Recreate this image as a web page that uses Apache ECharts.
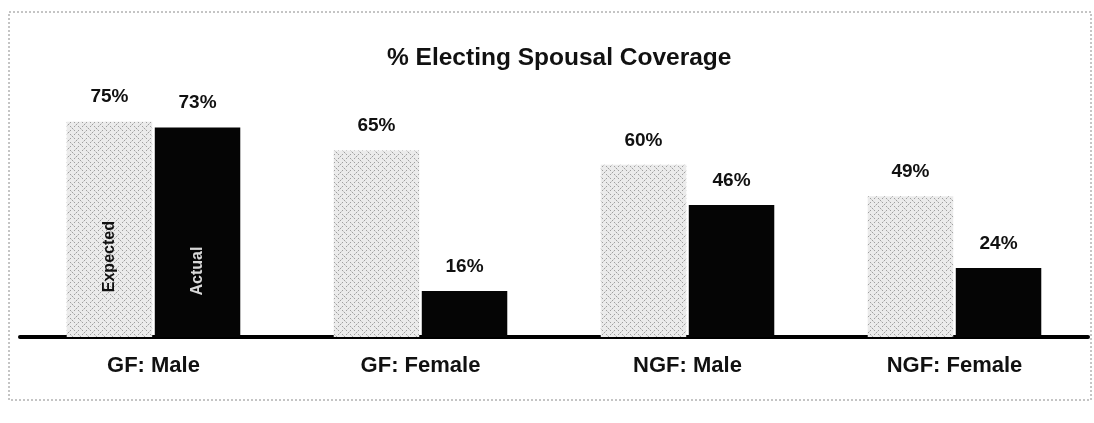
<!DOCTYPE html>
<html>
<head>
<meta charset="utf-8">
<script src="https://cdn.jsdelivr.net/npm/echarts@6/dist/echarts.min.js"></script>
<style>
html,body{margin:0;padding:0;background:#fff;}
#chart{width:1094px;height:423px;}
</style>
</head>
<body>
<div id="chart"></div>
<script>
// 数据
var categories = ['GF: Male', 'GF: Female', 'NGF: Male', 'NGF: Female'];
var expected = [75, 65, 60, 49];
var actual = [73, 16, 46, 24];

// 灰色网点底纹（扫描件的交叉斜线）
function hatch() {
	var c = document.createElement('canvas');
	c.width = 8; c.height = 8;
	var g = c.getContext('2d');
	g.fillStyle = '#ebebeb';
	g.fillRect(0, 0, 8, 8);
	g.fillStyle = '#a0a0a0';
	g.fillRect(0, 0, 1, 1);
	g.fillRect(2, 2, 1, 1);
	g.fillRect(6, 2, 1, 1);
	g.fillRect(4, 4, 1, 1);
	g.fillRect(2, 6, 1, 1);
	g.fillRect(6, 6, 1, 1);
	g.fillStyle = '#cccccc';
	g.fillRect(1, 1, 1, 1);
	g.fillRect(5, 3, 1, 1);
	g.fillRect(3, 5, 1, 1);
	g.fillRect(7, 7, 1, 1);
	return c;
}

var font = '"Liberation Sans", Arial, sans-serif';
var chart = echarts.init(document.getElementById('chart'));

option = {
	backgroundColor: '#fff',
	animation: false,
	title: {
		text: '% Electing Spousal Coverage',
		left: 382,
		top: 41,
		textStyle: { fontFamily: font, fontSize: 24.5, fontWeight: 'bold', color: '#111' }
	},
	grid: { left: 20, right: 6, top: 50, bottom: 86 },
	xAxis: {
		type: 'category',
		data: categories,
		axisLine: { lineStyle: { color: '#000', width: 4 } },
		axisTick: { show: false },
		axisLabel: { margin: 18, fontFamily: font, fontSize: 22, fontWeight: 'bold', color: '#111' }
	},
	yAxis: {
		type: 'value',
		min: 0,
		max: 100,
		show: false
	},
	series: [{
		name: 'Expected',
		type: 'bar',
		data: expected,
		barGap: '3%',
		barCategoryGap: '35%',
		itemStyle: { color: { image: hatch(), repeat: 'repeat' } },
		label: {
			show: true, position: 'top', distance: 15,
			formatter: '{c}%',
			fontFamily: font, fontSize: 19, fontWeight: 'bold', color: '#111'
		}
	}, {
		name: 'Actual',
		type: 'bar',
		data: actual,
		itemStyle: { color: '#050505' },
		label: {
			show: true, position: 'top', distance: 15,
			formatter: '{c}%',
			fontFamily: font, fontSize: 19, fontWeight: 'bold', color: '#111'
		}
	}]
};
chart.setOption(option, true);

// 第一组柱子里的竖排说明文字，位置从坐标轴换算
var l1 = chart.getModel().getSeriesByIndex(0).getData().getItemLayout(0);
var l2 = chart.getModel().getSeriesByIndex(1).getData().getItemLayout(0);
var y1 = chart.convertToPixel({ seriesIndex: 0 }, [0, 28])[1];
var y2 = chart.convertToPixel({ seriesIndex: 1 }, [0, 23])[1];
chart.setOption({
	graphic: [{
		type: 'rect',
		shape: { x: 9, y: 12, width: 1082, height: 388 },
		style: { fill: null, stroke: '#8a8a8a', lineWidth: 1, lineDash: [2, 2] },
		silent: true
	}, {
		type: 'text',
		z: 100,
		x: l1.x + l1.width / 2, y: y1, rotation: Math.PI / 2,
		style: { text: 'Expected', fontFamily: font, fontSize: 16, fontWeight: 'bold', fill: '#111', align: 'center', verticalAlign: 'middle' }
	}, {
		type: 'text',
		z: 100,
		x: l2.x + l2.width / 2, y: y2, rotation: Math.PI / 2,
		style: { text: 'Actual', fontFamily: font, fontSize: 16, fontWeight: 'bold', fill: '#d8d8d8', align: 'center', verticalAlign: 'middle' }
	}]
});
</script>
</body>
</html>
